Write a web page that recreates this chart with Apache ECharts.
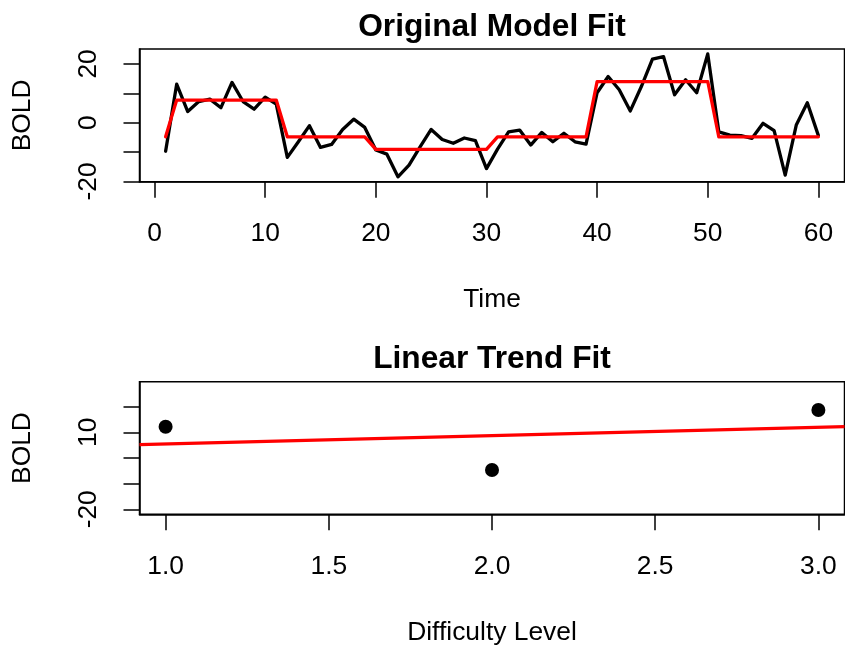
<!DOCTYPE html>
<html><head><meta charset="utf-8">
<script src="https://cdn.jsdelivr.net/npm/echarts@6/dist/echarts.min.js"></script>
<style>html,body{margin:0;padding:0;background:#fff}#c{width:845px;height:652px}</style>
</head><body><div id="c"></div>
<script>
// ---- data ----
const time = [1,2,3,4,5,6,7,8,9,10,11,12,13,14,15,16,17,18,19,20,21,22,23,24,25,26,27,28,29,30,31,32,33,34,35,36,37,38,39,40,41,42,43,44,45,46,47,48,49,50,51,52,53,54,55,56,57,58,59,60];
const boldSignal = [-9.7,13.1,3.8,7.2,8.0,5.1,13.7,7.2,4.6,8.7,
  6.3,-11.8,-6.5,-1.0,-8.4,-7.4,-2.3,1.2,-1.6,-9.3,
  -10.7,-18.4,-14.4,-8.2,-2.3,-5.7,-7.0,-5.2,-6.1,-15.6,
  -9.0,-3.1,-2.5,-7.6,-3.3,-6.5,-3.6,-6.5,-7.3,10.2,
  15.7,11.2,4.0,12.3,21.6,22.5,9.5,14.6,10.2,23.4,
  -3.1,-4.2,-4.4,-5.3,-0.2,-2.7,-17.8,-0.8,6.8,-4.4];
const modelFit = [-4.8,7.7,7.7,7.7,7.7,7.7,7.7,7.7,7.7,7.7,
  7.7,-4.8,-4.8,-4.8,-4.8,-4.8,-4.8,-4.8,-4.8,-9.1,
  -9.1,-9.1,-9.1,-9.1,-9.1,-9.1,-9.1,-9.1,-9.1,-9.1,
  -4.8,-4.8,-4.8,-4.8,-4.8,-4.8,-4.8,-4.8,-4.8,14.0,
  14.0,14.0,14.0,14.0,14.0,14.0,14.0,14.0,14.0,14.0,
  -4.8,-4.8,-4.8,-4.8,-4.8,-4.8,-4.8,-4.8,-4.8,-4.8];
const difficulty = [1, 2, 3];
const difficultyBold = [12.2, -4.7, 18.7];

const topXTicks = [0,10,20,30,40,50,60];
const topYTicks = [-20,-10,0,10,20];
const topYLabels = [-20,0,20];
const botXTicks = [1.0,1.5,2.0,2.5,3.0];
const botYTicks = [-20,-10,0,10,20];
const botYLabels = [10,-20];
const titles = ['Original Model Fit', 'Linear Trend Fit'];
const xNames = ['Time', 'Difficulty Level'];
const yName = 'BOLD';

// ---- axis extents (R-style 4% padding) ----
const topX = [-1.36, 62.36], topY = [-20.07, 25.07];
const botX = [0.92, 3.08],   botY = [-21.95, 29.75];

// least-squares fit of the difficulty means
const n = difficulty.length;
const mx = difficulty.reduce((a,b)=>a+b,0)/n;
const my = difficultyBold.reduce((a,b)=>a+b,0)/n;
let sxy = 0, sxx = 0;
for (let i=0;i<n;i++){ sxy += (difficulty[i]-mx)*(difficultyBold[i]-my); sxx += (difficulty[i]-mx)**2; }
const slope = sxy/sxx, intercept = my - slope*mx;
const fitLine = botX.map(x => [x, intercept + slope*x]);

const FONT = 'Liberation Sans, Arial, Helvetica, sans-serif';
const FS = 26.4;
const txt = {color:'#000', fontSize:FS, fontFamily:FONT};

function xAxis(gi, ext, ticks, fmt, name){
  return {type:'value', gridIndex:gi, min:ext[0], max:ext[1],
    axisLine:{show:true, onZero:false, lineStyle:{color:'#000', width:1.5}},
    axisTick:{show:true, customValues:ticks, length:16, lineStyle:{color:'#000', width:1.5}},
    axisLabel:Object.assign({customValues:ticks, formatter:fmt, margin:39}, txt),
    splitLine:{show:false},
    name:name, nameLocation:'middle', nameGap:105, nameTextStyle:txt};
}
function yAxis(gi, ext, ticks, labels){
  return {type:'value', gridIndex:gi, min:ext[0], max:ext[1],
    axisLine:{show:true, onZero:false, lineStyle:{color:'#000', width:1.5}},
    axisTick:{show:true, customValues:ticks, length:16, lineStyle:{color:'#000', width:1.5}},
    axisLabel:Object.assign({customValues:labels, rotate:90, margin:38, formatter:v=>String(v)}, txt),
    splitLine:{show:false},
    name:yName, nameLocation:'middle', nameRotate:90, nameGap:104, nameTextStyle:txt};
}

const grids = [
  {left:139.5, top:49, width:705, height:132.7},
  {left:139.5, top:381.7, width:705, height:132.6}
];

const chart = echarts.init(document.getElementById('c'), null, {renderer:'canvas'});
chart.setOption({
  animation:false,
  backgroundColor:'#fff',
  grid: grids.map(g => Object.assign({show:true, borderColor:'#000', borderWidth:1.5, backgroundColor:'transparent', containLabel:false}, g)),
  xAxis:[xAxis(0, topX, topXTicks, v=>String(v), xNames[0]), xAxis(1, botX, botXTicks, v=>Number(v).toFixed(1), xNames[1])],
  yAxis:[yAxis(0, topY, topYTicks, topYLabels), yAxis(1, botY, botYTicks, botYLabels)],
  graphic: titles.map((t,i) => ({type:'text', x:492, y: grids[i].top - 22,
    style:{text:t, fontSize:31.7, fontWeight:'bold', fontFamily:FONT, fill:'#000',
      align:'center', verticalAlign:'middle', textAlign:'center', textVerticalAlign:'middle'}})),
  series:[
    {type:'line', xAxisIndex:0, yAxisIndex:0, data:time.map((t,i)=>[t, boldSignal[i]]),
      symbol:'none', lineStyle:{color:'#000', width:3.3, cap:'round', join:'round'}, silent:true},
    {type:'line', xAxisIndex:0, yAxisIndex:0, data:time.map((t,i)=>[t, modelFit[i]]),
      symbol:'none', lineStyle:{color:'#ff0000', width:3.3, cap:'round', join:'round'}, silent:true},
    {type:'scatter', xAxisIndex:1, yAxisIndex:1, data:difficulty.map((d,i)=>[d, difficultyBold[i]]),
      symbol:'circle', symbolSize:14, itemStyle:{color:'#000', opacity:1}, silent:true},
    {type:'line', xAxisIndex:1, yAxisIndex:1, data:fitLine,
      symbol:'none', lineStyle:{color:'#ff0000', width:3.3}, silent:true}
  ]
});
</script></body></html>
